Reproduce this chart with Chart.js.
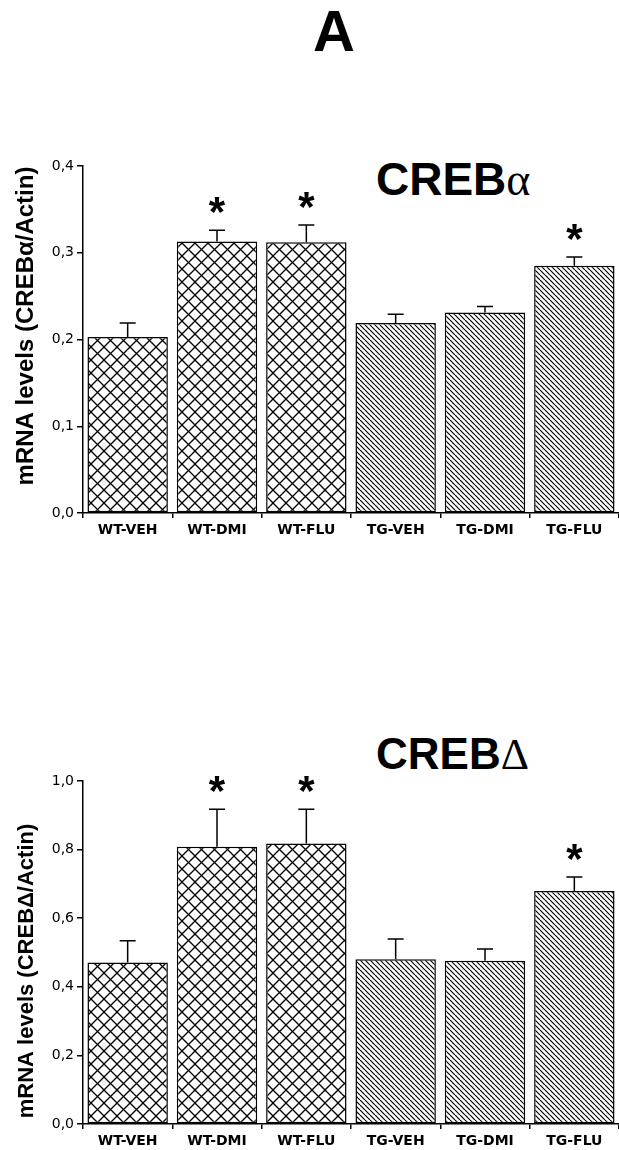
<!DOCTYPE html>
<html><head><meta charset="utf-8">
<script src="https://cdn.jsdelivr.net/npm/chart.js@4.4.1/dist/chart.umd.min.js"></script>
<style>
html,body{margin:0;padding:0;background:#fff;width:619px;height:1150px;overflow:hidden;position:relative;}
canvas{position:absolute;left:0;}
.t{position:absolute;font-family:"Liberation Sans",Arial,sans-serif;font-weight:bold;line-height:1;color:#000;white-space:nowrap;}
.g{font-family:"Liberation Serif",serif;font-weight:normal;}
</style></head><body>
<div class="t" style="left:313px;top:2px;font-size:58px">A</div>
<div class="t" style="left:376px;top:156px;font-size:46px">CREB<span class="g">α</span></div>
<div class="t" style="left:376px;top:732px;font-size:44px">CREB<span class="g">Δ</span></div>
<canvas id="c1" width="619" height="460" style="top:100px"></canvas>
<canvas id="c2" width="619" height="450" style="top:700px"></canvas>
<script>
// ---- data ----
const categories = ['WT-VEH', 'WT-DMI', 'WT-FLU', 'TG-VEH', 'TG-DMI', 'TG-FLU'];
const crebAlpha = [0.203, 0.313, 0.312, 0.219, 0.231, 0.285];
const crebAlphaErr = [0.016, 0.013, 0.020, 0.010, 0.007, 0.010];
const crebDelta = [0.471, 0.808, 0.818, 0.480, 0.476, 0.679];
const crebDeltaErr = [0.063, 0.110, 0.100, 0.059, 0.034, 0.041];
const significant = [false, true, true, false, false, true];
const genotype = ['WT', 'WT', 'WT', 'TG', 'TG', 'TG'];
const alphaTicks = [0, 0.1, 0.2, 0.3, 0.4];
const deltaTicks = [0, 0.2, 0.4, 0.6, 0.8, 1.0];
const alphaYTitle = 'mRNA levels (CREBα/Actin)';
const deltaYTitle = 'mRNA levels (CREBΔ/Actin)';

function crossPattern(ctx) {
  const p = 13, c = document.createElement('canvas');
  c.width = c.height = p;
  const g = c.getContext('2d');
  g.fillStyle = '#fff'; g.fillRect(0, 0, p, p);
  g.strokeStyle = '#000'; g.lineWidth = 1.3;
  for (const k of [-1, 0, 1]) {
    g.beginPath(); g.moveTo(k * p, 0); g.lineTo(k * p + p, p); g.stroke();
    g.beginPath(); g.moveTo(k * p + p, 0); g.lineTo(k * p, p); g.stroke();
  }
  return ctx.createPattern(c, 'repeat');
}
function hatchPattern(ctx) {
  const p = 5, c = document.createElement('canvas');
  c.width = c.height = p;
  const g = c.getContext('2d');
  g.fillStyle = '#fff'; g.fillRect(0, 0, p, p);
  g.strokeStyle = '#000'; g.lineWidth = 1.15;
  for (const k of [-1, 0, 1]) {
    g.beginPath(); g.moveTo(k * p, 0); g.lineTo(k * p + p, p); g.stroke();
  }
  return ctx.createPattern(c, 'repeat');
}

const errorPlugin = {
  id: 'errStars',
  afterDatasetsDraw(chart, args, opts) {
    const ctx = chart.ctx, meta = chart.getDatasetMeta(0), ys = chart.scales.y;
    const vals = chart.data.datasets[0].data;
    ctx.save();
    ctx.strokeStyle = '#000'; ctx.lineWidth = 1.5; ctx.fillStyle = '#000';
    meta.data.forEach((bar, i) => {
      const yTop = ys.getPixelForValue(vals[i]);
      const yErr = ys.getPixelForValue(vals[i] + opts.errors[i]);
      ctx.beginPath(); ctx.moveTo(bar.x, yTop); ctx.lineTo(bar.x, yErr);
      ctx.moveTo(bar.x - 8, yErr); ctx.lineTo(bar.x + 8, yErr); ctx.stroke();
      if (opts.stars[i]) {
        ctx.font = 'bold 42px "Liberation Sans"';
        ctx.textAlign = 'center'; ctx.textBaseline = 'alphabetic';
        ctx.fillText('*', bar.x, yErr - 4);
      }
    });
    ctx.restore();
  }
};
const yTitlePlugin = {
  id: 'yTitleRot',
  afterDraw(chart, args, opts) {
    const ctx = chart.ctx;
    ctx.save();
    ctx.translate(opts.x, opts.y); ctx.rotate(-Math.PI / 2);
    ctx.font = 'bold ' + opts.size + 'px "Liberation Sans"';
    ctx.fillStyle = '#000'; ctx.textAlign = 'center'; ctx.textBaseline = 'middle';
    ctx.fillText(opts.text, 0, 0);
    ctx.restore();
  }
};

function makeChart(id, values, errors, tickVals, yTitle, cfg) {
  const canvas = document.getElementById(id), ctx = canvas.getContext('2d');
  const cross = crossPattern(ctx), hatch = hatchPattern(ctx);
  return new Chart(ctx, {
    type: 'bar',
    data: {
      labels: categories,
      datasets: [{
        data: values,
        backgroundColor: genotype.map(g => g === 'WT' ? cross : hatch),
        borderColor: '#000', borderWidth: 1.5, borderSkipped: false,
        barPercentage: 0.9, categoryPercentage: 1.0
      }]
    },
    options: {
      responsive: false, animation: false, devicePixelRatio: 1,
      layout: { padding: { top: cfg.padTop, right: 0, bottom: 0, left: 0 } },
      plugins: {
        legend: { display: false }, tooltip: { enabled: false },
        errStars: { errors: errors, stars: significant },
        yTitleRot: { text: yTitle, x: cfg.titleX, y: cfg.titleY, size: cfg.titleSize }
      },
      scales: {
        x: {
          afterFit: s => { s.height = cfg.xH; },
          grid: { display: true, offset: true, drawOnChartArea: false, drawTicks: true, tickLength: 5, color: '#000', lineWidth: 1.5 },
          border: { display: true, color: '#000', width: 1.5 },
          ticks: { color: '#000', padding: 4, font: { family: 'DejaVu Sans', weight: 'bold', size: 14 } }
        },
        y: {
          min: tickVals[0], max: tickVals[tickVals.length - 1],
          afterFit: s => { s.width = 83; },
          afterBuildTicks: s => { s.ticks = tickVals.map(v => ({ value: v })); },
          grid: { display: true, drawOnChartArea: false, drawTicks: true, tickLength: 6, color: '#000', lineWidth: 1.5 },
          border: { display: true, color: '#000', width: 1.5 },
          ticks: { color: '#000', padding: 3, font: { family: 'DejaVu Sans', size: 14 },
                   callback: v => v.toFixed(1).replace('.', ',') }
        }
      }
    },
    plugins: [errorPlugin, yTitlePlugin]
  });
}

makeChart('c1', crebAlpha, crebAlphaErr, alphaTicks, alphaYTitle,
  { padTop: 66, xH: 47, titleX: 26, titleY: 226, titleSize: 24 });
makeChart('c2', crebDelta, crebDeltaErr, deltaTicks, deltaYTitle,
  { padTop: 81, xH: 26, titleX: 27, titleY: 271, titleSize: 22 });
</script>
</body></html>
